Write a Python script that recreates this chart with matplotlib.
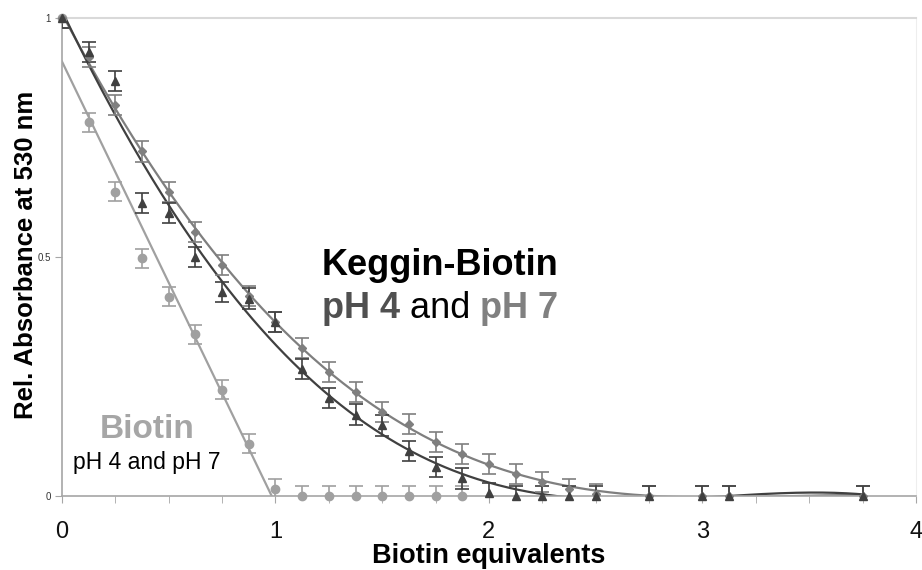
import numpy as np
import matplotlib
matplotlib.use('Agg')
import matplotlib.pyplot as plt

plt.rcParams['font.family'] = ['Liberation Sans', 'DejaVu Sans']

# biotin equivalents added
x_keg = [0, 0.125, 0.25, 0.375, 0.5, 0.625, 0.75, 0.875, 1.0, 1.125, 1.25, 1.375,
         1.5, 1.625, 1.75, 1.875, 2.0, 2.125, 2.25, 2.375, 2.5, 2.75, 3.0, 3.125, 3.75]
x_bio = [0, 0.125, 0.25, 0.375, 0.5, 0.625, 0.75, 0.875, 1.0, 1.125, 1.25, 1.375,
         1.5, 1.625, 1.75, 1.875]

# relative absorbance at 530 nm
keg_ph4 = [1.0, 0.929, 0.868, 0.614, 0.593, 0.499, 0.426, 0.413, 0.363, 0.266, 0.205, 0.170,
           0.147, 0.094, 0.061, 0.036, 0.006, 0, 0, 0, 0, 0, 0, 0, 0]
keg_ph7 = [1.0, 0.918, 0.818, 0.721, 0.637, 0.553, 0.484, 0.419, 0.363, 0.310, 0.260, 0.218,
           0.176, 0.151, 0.113, 0.088, 0.067, 0.046, 0.029, 0.014, 0.004, 0, 0, 0, 0]
biotin = [1.0, 0.782, 0.637, 0.497, 0.417, 0.338, 0.222, 0.109, 0.015, 0, 0, 0,
          0, 0, 0, 0]

err_keg = 0.021
err_bio = 0.02

c_bio = '#a0a0a0'
c_ph7 = '#7f7f7f'
c_ph4 = '#404040'

fig = plt.figure(figsize=(9.22, 5.70), dpi=100)
ax = fig.add_axes([0.0672, 0.1304, 0.9262, 0.8375])

# trend lines
xs = np.linspace(0, 3.75, 400)
p7 = np.polyfit(x_keg, keg_ph7, 4)
p4 = np.polyfit(x_keg, keg_ph4, 4)
ax.plot(xs, np.polyval(p7, xs), color=c_ph7, lw=1.6, zorder=2)
ax.plot(xs, np.polyval(p4, xs), color=c_ph4, lw=1.6, zorder=2)

xb = np.array(x_bio)
yb = np.array(biotin)
m, b = np.polyfit(xb[xb <= 1], yb[xb <= 1], 1)
ax.plot([0, -b / m], [b, 0], color=c_bio, lw=1.6, zorder=2)

# data with error bars
for x, y, c, mk, ms, e in [(x_bio, biotin, c_bio, 'o', 6, err_bio),
                           (x_keg, keg_ph7, c_ph7, 'D', 4.5, err_keg),
                           (x_keg, keg_ph4, c_ph4, '^', 6, err_keg)]:
    ax.errorbar(x, y, yerr=e, fmt='none', ecolor=c, elinewidth=1.2,
                capsize=5, capthick=1.2, zorder=3)
    ax.plot(x, y, ls='none', marker=mk, ms=ms, color=c, mec=c, zorder=4, clip_on=False)

ax.set_xlim(0, 4)
ax.set_ylim(0, 1)
ax.set_xticks([0, 1, 2, 3, 4])
ax.set_xticks(np.arange(0, 4.01, 0.25), minor=True)
ax.set_yticks([0, 0.5, 1])
ax.set_yticklabels(['0', '0.5', '1'])

ax.tick_params(axis='x', which='both', direction='out', length=5, color='#a6a6a6',
               labelsize=17, pad=13, labelcolor='#111111')
ax.tick_params(axis='y', direction='out', length=5, color='#a6a6a6',
               labelsize=7, pad=3, labelcolor='#333333')

for s in ['left', 'bottom']:
    ax.spines[s].set_color('#a6a6a6')
    ax.spines[s].set_linewidth(1.2)
ax.spines['top'].set_color('#d9d9d9')
ax.spines['top'].set_linewidth(1.5)
ax.spines['right'].set_color('#eeeeee')

ax.set_xlabel('Biotin equivalents', fontsize=19.5, fontweight='bold')
ax.xaxis.set_label_coords(0.5, -0.1)
ax.set_ylabel('Rel. Absorbance at 530 nm', fontsize=18.5, fontweight='bold')
ax.yaxis.set_label_coords(-0.0275, 0.504)

# labels inside the plot
ax.text(1.218, 0.462, 'Keggin-Biotin', fontsize=26, fontweight='bold', color='black',
        va='baseline')
t = ax.text(1.218, 0.372, 'pH 4', fontsize=26, fontweight='bold', color='#505050',
            va='baseline')
t = ax.annotate(' and ', xy=(1, 0), xycoords=t, fontsize=26, color='black',
                va='bottom', ha='left')
ax.annotate('pH 7', xy=(1, 0), xycoords=t, fontsize=26, fontweight='bold',
            color='#808080', va='bottom', ha='left')

ax.text(0.178, 0.120, 'Biotin', fontsize=24, fontweight='bold', color='#a6a6a6',
        va='baseline')
ax.text(0.052, 0.055, 'pH 4 and pH 7', fontsize=16.5, color='black', va='baseline')

fig.savefig('out.png', dpi=100)
